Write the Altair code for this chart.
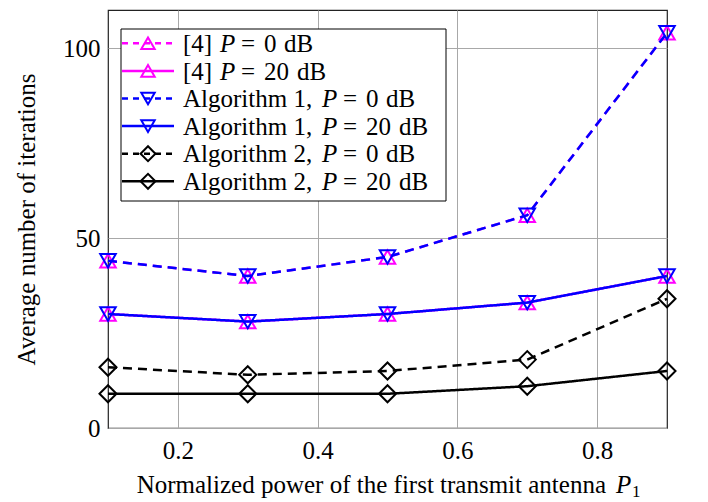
import altair as alt
import pandas as pd

# ---- data ----
x_vals = [0.1, 0.3, 0.5, 0.7, 0.9]
ref4_p0 = [44, 40, 45, 56, 104]
ref4_p20 = [30, 28, 30, 33, 40]
alg1_p0 = [44, 40, 45, 56, 104]
alg1_p20 = [30, 28, 30, 33, 40]
alg2_p0 = [16, 14, 15, 18, 34]
alg2_p20 = [9, 9, 9, 11, 15]

series_names = ["[4] P = 0 dB", "[4] P = 20 dB",
                "Algorithm 1, P = 0 dB", "Algorithm 1, P = 20 dB",
                "Algorithm 2, P = 0 dB", "Algorithm 2, P = 20 dB"]
series_values = [ref4_p0, ref4_p20, alg1_p0, alg1_p20, alg2_p0, alg2_p20]
legend_prefix = ["[4]", "[4]", "Algorithm 1,", "Algorithm 1,", "Algorithm 2,", "Algorithm 2,"]
legend_power = ["0", "20", "0", "20", "0", "20"]

x_ticks = [0.2, 0.4, 0.6, 0.8]
y_ticks = [0, 50, 100]

# ---- styles ----
colors = ["#ff00ff", "#ff00ff", "#0000ff", "#0000ff", "#000000", "#000000"]
shapes = ["triangle-up", "triangle-up", "triangle-down", "triangle-down", "diamond", "diamond"]
marker_size = [240, 240, 240, 240, 290, 290]
legend_marker_size = [180, 180, 180, 180, 220, 220]
dashed = [True, False, True, False, True, False]
FONT = "Liberation Serif"
FS = 25

W, H = 559, 418

rows = []
for name, vals in zip(series_names, series_values):
    for xv, yv in zip(x_vals, vals):
        rows.append({"series": name, "x": xv, "y": yv})
df = pd.DataFrame(rows)

x_enc = alt.X("x:Q", scale=alt.Scale(domain=[0.1, 0.9], nice=False),
              axis=alt.Axis(values=x_ticks, format=".1f", title=None, grid=True,
                            gridColor="#a8a8a8", gridWidth=1, domain=False, ticks=False,
                            labelFont=FONT, labelFontSize=FS, labelColor="#000",
                            labelPadding=10))
y_enc = alt.Y("y:Q", scale=alt.Scale(domain=[0, 110], nice=False),
              axis=alt.Axis(values=y_ticks, title="Average number of iterations",
                            grid=True, gridColor="#a8a8a8", gridWidth=1, domain=False,
                            ticks=False, labelFont=FONT, labelFontSize=FS, labelColor="#000",
                            labelPadding=8, titleFont=FONT, titleFontSize=FS,
                            titleFontWeight="normal", titleColor="#000",
                            titleAngle=270, titleAlign="center", titleBaseline="alphabetic",
                            titleX=-74, titleY=H / 2))

layers = []
for i, name in enumerate(series_names):
    sub = df[df["series"] == name]
    base = alt.Chart(sub)
    line = base.mark_line(strokeWidth=2.5, strokeDash=[9, 6] if dashed[i] else [1, 0],
                          color=colors[i]).encode(x=x_enc, y=y_enc)
    pts = base.mark_point(shape=shapes[i], filled=False, size=marker_size[i], strokeWidth=2,
                          color=colors[i], opacity=1).encode(x="x:Q", y="y:Q")
    layers += [line, pts]

# ---- legend ----
leg_df = pd.DataFrame({"row": list(range(6)), "series": series_names,
                       "prefix": legend_prefix, "power": legend_power})
box = alt.Chart(alt.Data(values=[{}])).mark_rect(fill="white", stroke="black",
                                                 strokeWidth=1).encode(
    x=alt.value(13), x2=alt.value(338), y=alt.value(19), y2=alt.value(191))
layers.append(box)

leg = alt.Chart(leg_df).transform_calculate(
    ly="33.3 + datum.row * 27.6",
    ty="42 + datum.row * 27.6",
    px="datum.row < 2 ? 112 : 214",
    ex="(datum.row < 2 ? 112 : 214) + 21",
    nx="(datum.row < 2 ? 112 : 214) + 44",
    dx="(datum.row < 2 ? 112 : 214) + (datum.row % 2 == 0 ? 64 : 77)")
for i, name in enumerate(series_names):
    one = leg.transform_filter(alt.datum.row == i)
    layers.append(one.mark_rule(strokeWidth=2.5, strokeDash=[6, 5] if dashed[i] else [1, 0],
                                color=colors[i]).encode(
        x=alt.value(14), x2=alt.value(66), y=alt.Y("ly:Q", scale=None)))
    layers.append(one.mark_point(shape=shapes[i], filled=False, size=legend_marker_size[i],
                                 strokeWidth=2, color=colors[i], opacity=1).encode(
        x=alt.value(40), y=alt.Y("ly:Q", scale=None)))

text_common = dict(font=FONT, fontSize=FS, color="black", align="left", baseline="alphabetic")
layers.append(leg.mark_text(**text_common).encode(
    x=alt.value(75), y=alt.Y("ty:Q", scale=None), text="prefix:N"))
layers.append(leg.mark_text(fontStyle="italic", **text_common).encode(
    x=alt.X("px:Q", scale=None), y=alt.Y("ty:Q", scale=None), text=alt.value("P")))
layers.append(leg.mark_text(**text_common).encode(
    x=alt.X("ex:Q", scale=None), y=alt.Y("ty:Q", scale=None), text=alt.value("=")))
layers.append(leg.mark_text(**text_common).encode(
    x=alt.X("nx:Q", scale=None), y=alt.Y("ty:Q", scale=None), text="power:N"))
layers.append(leg.mark_text(**text_common).encode(
    x=alt.X("dx:Q", scale=None), y=alt.Y("ty:Q", scale=None), text=alt.value("dB")))

# ---- x axis title (with italic P and subscript 1) ----
t = alt.Chart(alt.Data(values=[{}]))
layers.append(t.mark_text(font=FONT, fontSize=25, color="black", align="right",
                          baseline="alphabetic").encode(
    x=alt.value(498), y=alt.value(483),
    text=alt.value("Normalized power of the first transmit antenna")))
layers.append(t.mark_text(font=FONT, fontSize=25, fontStyle="italic", color="black",
                          align="left", baseline="alphabetic").encode(
    x=alt.value(508), y=alt.value(483), text=alt.value("P")))
layers.append(t.mark_text(font=FONT, fontSize=17, color="black", align="left",
                          baseline="alphabetic").encode(
    x=alt.value(524), y=alt.value(487), text=alt.value("1")))

chart = alt.layer(*layers).properties(
    width=W, height=H,
    autosize=alt.AutoSizeParams(type="none"),
    padding={"left": 108, "top": 10, "right": 41, "bottom": 74},
    background="white",
).configure_view(stroke="#222222", strokeWidth=1.2)

chart.save("out.html", embed_options={"renderer": "svg", "actions": False})
